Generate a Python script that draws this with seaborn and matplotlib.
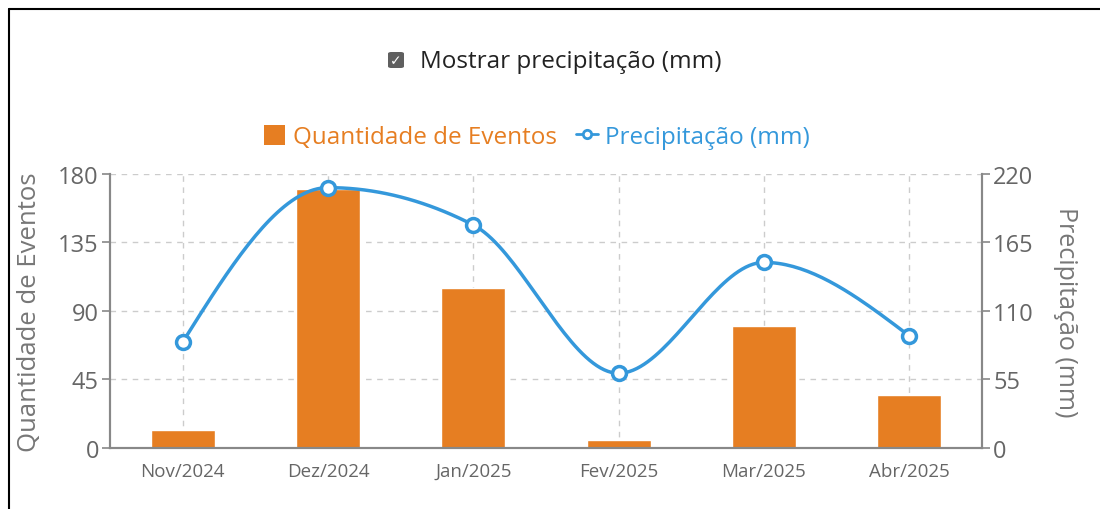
import numpy as np
import pandas as pd
import seaborn as sns
import matplotlib.pyplot as plt
from matplotlib.lines import Line2D
from matplotlib.patches import FancyBboxPatch, Patch

# Data
meses = ['Nov/2024', 'Dez/2024', 'Jan/2025', 'Fev/2025', 'Mar/2025', 'Abr/2025']
eventos = [12, 170, 105, 5, 80, 35]
precipitacao = [85, 209, 179, 60, 149, 90]

LARANJA = '#E67E22'
AZUL = '#3498DB'
CINZA = '#666666'


def monotone_x(xs, ys, n=40):
    """Monotone cubic curve through the points (like d3.curveMonotoneX)."""
    xs = np.asarray(xs, float)
    ys = np.asarray(ys, float)
    h = np.diff(xs)
    s = np.diff(ys) / h
    m = np.zeros_like(ys)
    for i in range(1, len(xs) - 1):
        p = (s[i - 1] * h[i] + s[i] * h[i - 1]) / (h[i - 1] + h[i])
        m[i] = (np.sign(s[i - 1]) + np.sign(s[i])) * min(abs(s[i - 1]), abs(s[i]), 0.5 * abs(p))
    m[0] = (3 * s[0] - m[1]) / 2
    m[-1] = (3 * s[-1] - m[-2]) / 2
    out_x, out_y = [], []
    for i in range(len(xs) - 1):
        t = np.linspace(0, 1, n, endpoint=False)
        h00 = 2 * t ** 3 - 3 * t ** 2 + 1
        h10 = t ** 3 - 2 * t ** 2 + t
        h01 = -2 * t ** 3 + 3 * t ** 2
        h11 = t ** 3 - t ** 2
        out_x.extend(xs[i] + t * h[i])
        out_y.extend(h00 * ys[i] + h10 * h[i] * m[i] + h01 * ys[i + 1] + h11 * h[i] * m[i + 1])
    out_x.append(xs[-1])
    out_y.append(ys[-1])
    return np.array(out_x), np.array(out_y)


sns.set_style('white')
plt.rcParams['font.family'] = ['Open Sans', 'DejaVu Sans']

df = pd.DataFrame({'mes': meses, 'eventos': eventos, 'precip': precipitacao})

fig = plt.figure(figsize=(11, 5.1), dpi=100)
ax = fig.add_axes([0.1, 0.1196, 0.7927, 0.5374])
ax2 = ax.twinx()

sns.barplot(data=df, x='mes', y='eventos', color=LARANJA, width=0.44,
            saturation=1, ax=ax, zorder=2)

cx, cy = monotone_x(np.arange(len(meses)), precipitacao)
curva = pd.DataFrame({'x': cx, 'y': cy})
sns.lineplot(data=curva, x='x', y='y', color=AZUL, linewidth=2.5, ax=ax2,
             sort=False, zorder=3)
ax2.plot(np.arange(len(meses)), precipitacao, linestyle='none', marker='o',
         markersize=10, markerfacecolor='white', markeredgecolor=AZUL,
         markeredgewidth=2.5, zorder=4)

ax.set_xlim(-0.5, len(meses) - 0.5)
ax.set_ylim(0, 180)
ax.set_yticks([0, 45, 90, 135, 180])
ax2.set_ylim(0, 220)
ax2.set_yticks([0, 55, 110, 165, 220])

ax.grid(True, color='#cccccc', linestyle=(0, (4, 4)), linewidth=1)
ax.set_axisbelow(True)

for a in (ax, ax2):
    a.spines['top'].set_visible(False)
    for side in ('left', 'right', 'bottom'):
        a.spines[side].set_color('#888888')
        a.spines[side].set_linewidth(1.5)
    a.tick_params(axis='both', colors='#888888', length=6, width=1.2,
                  direction='out')

ax.tick_params(axis='y', labelcolor=CINZA, labelsize=17, pad=2)
ax.tick_params(axis='x', labelcolor=CINZA, labelsize=13.5, pad=4)
ax2.tick_params(axis='y', labelcolor=CINZA, labelsize=17, pad=2)

ax.set_xlabel('')
ax.set_ylabel('Quantidade de Eventos', color='#777777', fontsize=18.5, labelpad=12)
ax2.set_ylabel('Precipitação (mm)', color='#777777', fontsize=18,
               rotation=270, labelpad=32)

# Legend
handles = [Patch(facecolor=LARANJA, edgecolor='none'),
           Line2D([], [], color=AZUL, linewidth=2, marker='o', markersize=6,
                  markerfacecolor='white', markeredgecolor=AZUL,
                  markeredgewidth=2)]
leg = fig.legend(handles, ['Quantidade de Eventos', 'Precipitação (mm)'],
                 loc='center', bbox_to_anchor=(0.488, 0.729), ncol=2,
                 frameon=False, fontsize=17.5, handlelength=0.9,
                 handleheight=0.9, handletextpad=0.3, columnspacing=0.8)
for txt, cor in zip(leg.get_texts(), [LARANJA, AZUL]):
    txt.set_color(cor)

# Checkbox
fig.patches.append(FancyBboxPatch((388 / 1100, 1 - 69 / 510), 16 / 1100, 16 / 510,
                                  boxstyle='round,pad=0,rounding_size=0.003',
                                  transform=fig.transFigure, facecolor='#5f5f5f',
                                  edgecolor='none'))
fig.text(396 / 1100, 1 - 61 / 510, '✓', color='white', fontsize=10,
         ha='center', va='center', fontweight='bold', family=['DejaVu Sans'])
fig.text(420 / 1100, 1 - 62 / 510, 'Mostrar precipitação (mm)', color='#222222',
         fontsize=17.5, ha='left', va='center')

# Frame around the chart
fig.add_artist(Line2D([9 / 1100, 1], [1 - 10 / 510, 1 - 10 / 510],
                      transform=fig.transFigure, color='black', linewidth=1.5))
fig.add_artist(Line2D([9 / 1100, 9 / 1100], [0, 1 - 10 / 510],
                      transform=fig.transFigure, color='black', linewidth=1.5))

fig.savefig('out.png', dpi=100)
